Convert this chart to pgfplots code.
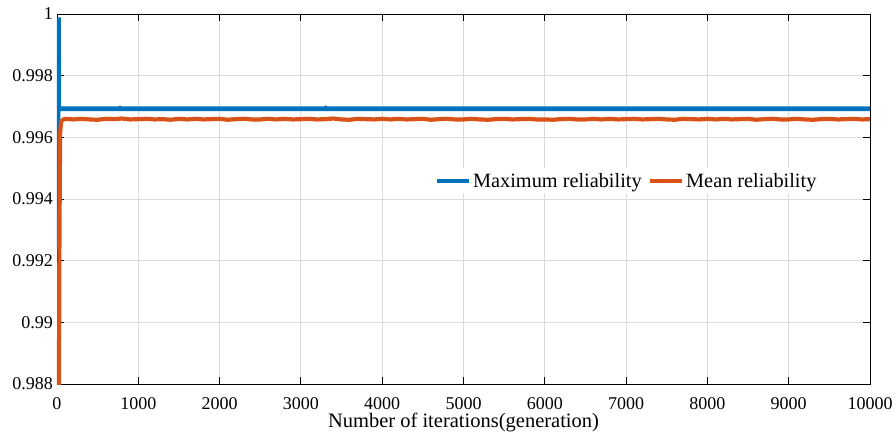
\documentclass[border=0pt]{standalone}
\usepackage{pgfplots}
\pgfplotsset{compat=1.18}
\usepackage{fontspec}
\setmainfont{Liberation Serif}
\definecolor{mblue}{RGB}{0,114,189}
\definecolor{morange}{RGB}{217,83,25}
\begin{document}
\begin{tikzpicture}
\useasboundingbox (-57pt,-55pt) rectangle (839pt,384pt);
\begin{axis}[
  at={(0pt,0pt)}, anchor=south west,
  scale only axis, width=813pt, height=370pt,
  xmin=0, xmax=10000, ymin=0.988, ymax=1,
  xtick={0,1000,...,10000},
  ytick={0.988,0.99,0.992,0.994,0.996,0.998,1},
  yticklabels={0.988,0.99,0.992,0.994,0.996,0.998,1},
  scaled x ticks=false, scaled y ticks=false,
  /pgf/number format/assume math mode=true,
  /pgf/number format/1000 sep={},
  ticklabel style={font=\fontsize{18}{20}\selectfont},
  xticklabel style={anchor=base, yshift=-25pt, inner sep=0pt},
  yticklabel style={anchor=east, xshift=-4pt, inner sep=0pt},
  xlabel style={at={(axis description cs:0.5,0)}, anchor=base, yshift=-43.5pt, inner sep=0pt, font=\fontsize{20.5}{22}\selectfont},
  xlabel={Number of iterations(generation)},
  tick align=inside, major tick length=7pt,
  grid=major, grid style={gray!28, line width=0.9pt},
  axis line style={line width=0.9pt},
  tick style={black, line width=0.9pt},
  legend style={at={(0.7005,0.5486)}, anchor=center, draw=none, fill=white,
    font=\fontsize{20.3}{22}\selectfont,
    /tikz/every even column/.append style={column sep=5pt},
    nodes={inner sep=1.5pt}, inner sep=4pt},
  legend columns=2,
  legend image code/.code={\draw[#1, line width=4.5pt] (0pt,0pt) -- (32pt,0pt);},
]
\addplot[mblue, line width=4.8pt] coordinates {
(10,0.99235) (14,0.99981) (18,0.99981) (22,0.99693) (770,0.99693) (775,0.99694) (780,0.99693) (3300,0.99693) (3305,0.99694) (3310,0.99693) (10000,0.99693)};
\addlegendentry{Maximum reliability}
\addplot[morange, line width=4.2pt] coordinates {
(0,0.9894) (4,0.9880) (24,0.9880) (30,0.9928) (38,0.9961) (50,0.99652) (80,0.99658)
(100,0.99660) (200,0.99658) (300,0.99660) (400,0.99658) (500,0.99657) (600,0.99660) (700,0.99659) (800,0.99661) (900,0.99658) (1000,0.99659)
(1100,0.99660) (1200,0.99658) (1300,0.99659) (1400,0.99657) (1500,0.99660) (1600,0.99658) (1700,0.99660) (1800,0.99658) (1900,0.99659) (2000,0.99660)
(2100,0.99657) (2200,0.99659) (2300,0.99660) (2400,0.99658) (2500,0.99658) (2600,0.99660) (2700,0.99658) (2800,0.99660) (2900,0.99658) (3000,0.99659)
(3100,0.99660) (3200,0.99658) (3300,0.99659) (3400,0.99661) (3500,0.99658) (3600,0.99657) (3700,0.99660) (3800,0.99659) (3900,0.99658) (4000,0.99660)
(4100,0.99658) (4200,0.99660) (4300,0.99658) (4400,0.99659) (4500,0.99660) (4600,0.99657) (4700,0.99659) (4800,0.99660) (4900,0.99658) (5000,0.99658)
(5100,0.99660) (5200,0.99658) (5300,0.99657) (5400,0.99659) (5500,0.99660) (5600,0.99658) (5700,0.99659) (5800,0.99660) (5900,0.99658) (6000,0.99658)
(6100,0.99657) (6200,0.99659) (6300,0.99660) (6400,0.99658) (6500,0.99658) (6600,0.99660) (6700,0.99658) (6800,0.99660) (6900,0.99658) (7000,0.99659)
(7100,0.99660) (7200,0.99658) (7300,0.99659) (7400,0.99660) (7500,0.99658) (7600,0.99657) (7700,0.99660) (7800,0.99659) (7900,0.99658) (8000,0.99660)
(8100,0.99658) (8200,0.99660) (8300,0.99658) (8400,0.99659) (8500,0.99660) (8600,0.99657) (8700,0.99659) (8800,0.99660) (8900,0.99658) (9000,0.99658)
(9100,0.99660) (9200,0.99658) (9300,0.99657) (9400,0.99659) (9500,0.99660) (9600,0.99658) (9700,0.99659) (9800,0.99660) (9900,0.99658) (10000,0.99659)};
\addlegendentry{Mean reliability}
\end{axis}
\end{tikzpicture}
\end{document}
